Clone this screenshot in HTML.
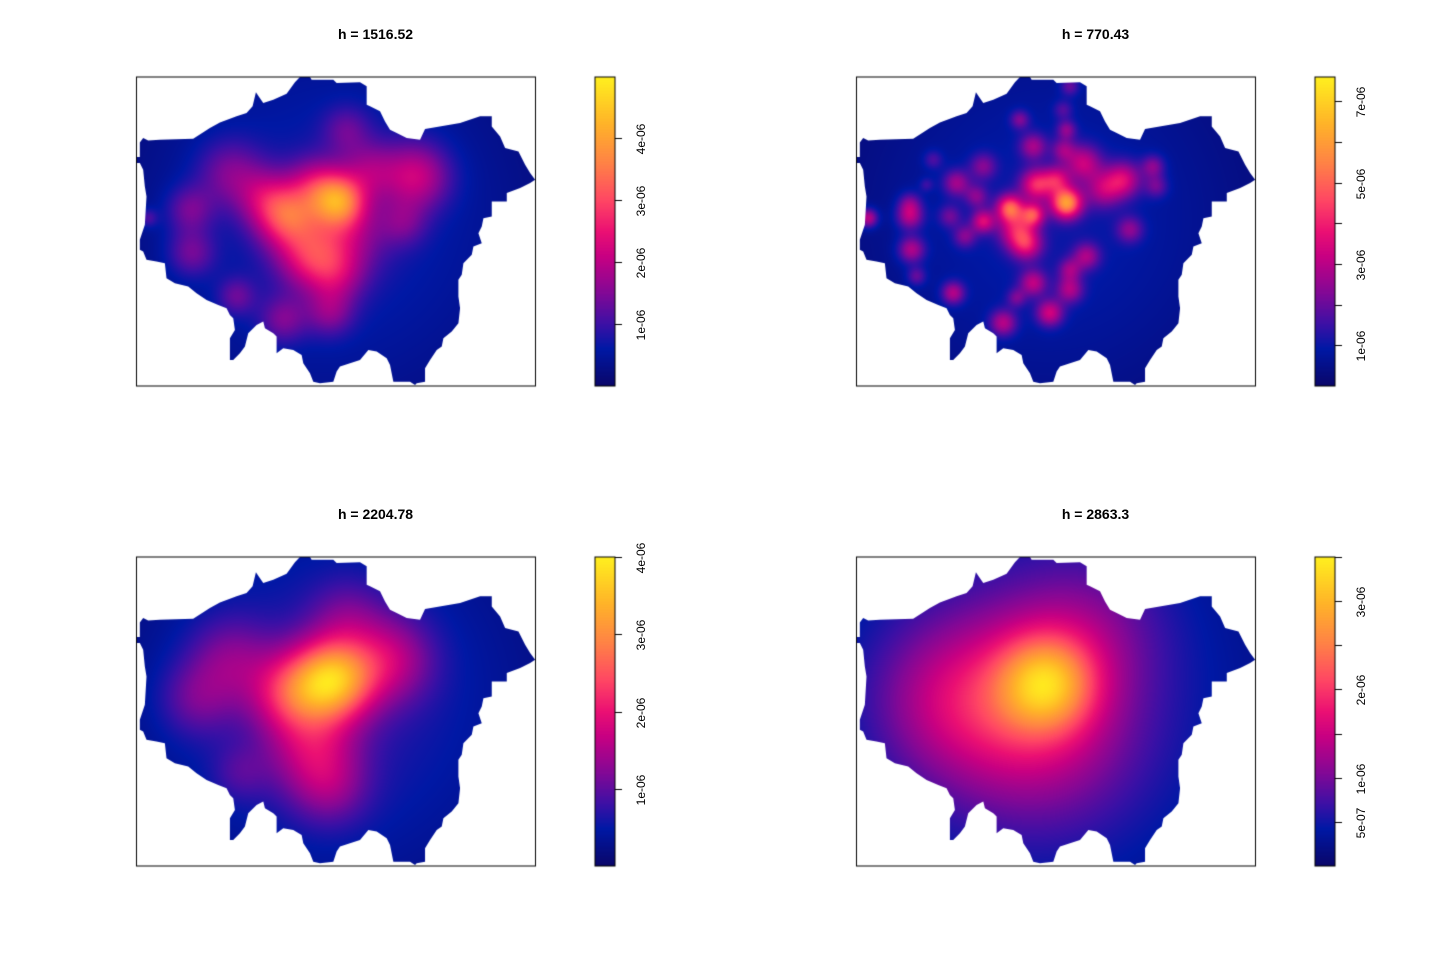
<!DOCTYPE html>
<html><head><meta charset="utf-8">
<style>
html,body{margin:0;padding:0;background:#fff;}
#wrap{position:relative;width:1440px;height:960px;overflow:hidden;font-family:"Liberation Sans",sans-serif;}
canvas{position:absolute;left:0;top:0;}
.title{position:absolute;width:400px;text-align:center;font-weight:bold;font-size:14px;color:#000;}
.tick{position:absolute;font-size:12px;color:#000;transform:translate(-50%,-50%) rotate(-90deg);white-space:nowrap;}
</style></head>
<body>
<div id="wrap">
<canvas id="cv" width="1440" height="960"></canvas>
</div>
<script>
// ---- data ----
const titles = ["h = 1516.52","h = 770.43","h = 2204.78","h = 2863.3"];
const legendMax = [4.98e-6, 7.6e-6, 4.0e-6, 3.5e-6];
const tickValues = [[1e-6,2e-6,3e-6,4e-6],[1e-6,2e-6,3e-6,4e-6,5e-6,6e-6,7e-6],[1e-6,2e-6,3e-6,4e-6],[5e-7,1e-6,1.5e-6,2e-6,2.5e-6,3e-6,3.5e-6]];
const tickLabels = [["1e-06","2e-06","3e-06","4e-06"],["1e-06","","3e-06","","5e-06","","7e-06"],["1e-06","2e-06","3e-06","4e-06"],["5e-07","1e-06","","2e-06","","3e-06",""]];
// kernel components per panel: [x, y, density, spread] in map coords
const kernels1 = [[600,450,0.75e-6,450],[630,395,2.4e-6,55],[470,440,2.1e-6,65],[560,350,1.3e-6,60],[860,320,1.5e-6,70],[540,560,1.6e-6,70],[650,500,1.0e-6,80],[180,420,0.9e-6,50],[185,550,0.9e-6,50],[300,310,0.9e-6,70],[320,680,0.8e-6,40],[460,750,0.9e-6,50],[600,730,0.9e-6,50],[650,180,0.7e-6,50],[820,460,0.7e-6,50],[620,620,0.9e-6,60],[400,380,0.9e-6,60],[720,300,0.9e-6,60],[55,445,0.7e-6,20]];
const kernels2 = [[600,450,1.0e-6,450],[650,400,5.0e-6,32],[480,415,3.8e-6,28],[550,435,3.2e-6,24],[400,455,2.6e-6,24],[560,345,3.1e-6,33],[620,330,2.3e-6,28],[500,480,2.5e-6,38],[530,525,2.5e-6,33],[700,280,2.3e-6,38],[820,330,2.5e-6,38],[760,360,1.9e-6,38],[550,230,1.9e-6,28],[650,180,1.6e-6,20],[640,240,1.5e-6,24],[910,290,1.6e-6,24],[920,350,1.3e-6,24],[840,480,1.6e-6,28],[710,560,1.9e-6,28],[660,600,1.6e-6,24],[660,660,2.0e-6,28],[550,640,2.2e-6,28],[600,730,2.5e-6,28],[460,760,2.2e-6,28],[500,685,1.3e-6,20],[310,670,2.2e-6,24],[200,620,1.3e-6,20],[185,540,2.2e-6,28],[180,440,2.2e-6,28],[180,400,1.3e-6,24],[320,340,1.9e-6,28],[380,380,1.5e-6,24],[400,290,1.5e-6,28],[345,500,1.5e-6,24],[300,440,1.3e-6,24],[510,150,1.5e-6,20],[660,50,1.3e-6,20],[640,120,1.0e-6,20],[55,445,2.5e-6,20],[250,270,1.0e-6,20],[230,345,0.8e-6,15]];
const kernels3 = [[600,450,0.7e-6,450],[610,390,2.6e-6,85],[480,430,1.3e-6,85],[780,330,1.0e-6,90],[300,330,0.7e-6,90],[200,450,0.6e-6,80],[550,600,1.0e-6,95],[330,670,0.4e-6,60],[650,200,0.5e-6,80],[600,720,0.6e-6,80]];
const kernels4 = [[550,450,0.7e-6,500],[590,400,1.6e-6,100],[400,450,0.8e-6,180],[600,560,0.6e-6,180],[700,250,0.5e-6,160],[250,450,0.3e-6,150]];
const kernelSets = [kernels1,kernels2,kernels3,kernels4];
// London boundary in map coords
const outline = [[20,262],[30,262],[30,218],[40,205],[55,212],[90,210],[190,207],[240,175],[270,158],[320,140],[350,130],[368,110],[378,68],[385,78],[400,100],[430,90],[470,72],[495,38],[510,22],[540,22],[545,30],[610,30],[620,40],[690,38],[710,50],[710,105],[720,110],[750,125],[765,155],[780,180],[800,190],[830,205],[870,210],[885,178],[990,160],[1050,140],[1085,140],[1085,170],[1110,200],[1125,235],[1165,245],[1185,285],[1200,310],[1215,330],[1200,340],[1170,355],[1130,370],[1130,395],[1085,395],[1085,440],[1060,445],[1055,470],[1045,490],[1055,520],[1030,530],[1025,555],[1000,580],[995,615],[985,630],[985,680],[990,715],[985,760],[965,785],[940,805],[935,830],[920,840],[900,870],[885,895],[885,935],[860,940],[855,945],[840,935],[790,935],[780,885],[770,865],[740,845],[715,840],[690,870],[660,880],[630,890],[620,905],[610,935],[570,940],[550,935],[540,910],[520,880],[515,855],[490,840],[460,835],[440,850],[440,800],[430,790],[405,775],[400,755],[380,765],[355,790],[345,830],[330,850],[310,870],[300,870],[300,805],[315,780],[310,745],[300,735],[290,715],[265,705],[230,690],[200,670],[175,650],[135,640],[110,625],[105,580],[80,575],[50,570],[40,545],[30,540],[30,510],[45,465],[50,380],[45,350],[40,300],[30,280],[20,280]];

// ---- layout ----
const boxes = [[136.5,77],[856.5,77],[136.5,557],[856.5,557]];
const BW=399, BH=309;
const stops=[[0,[10,6,105]],[0.12,[0,24,165]],[0.2,[60,16,165]],[0.3,[130,8,150]],[0.42,[200,0,130]],[0.5,[235,16,115]],[0.6,[255,70,100]],[0.72,[255,130,70]],[0.85,[255,180,40]],[1,[255,240,30]]];
function pal(f){f=Math.max(0,Math.min(1,f));for(let i=1;i<stops.length;i++){if(f<=stops[i][0]){const a=stops[i-1],b=stops[i],t=(f-a[0])/(b[0]-a[0]);return a[1].map((c,k)=>Math.round(c+(b[1][k]-c)*t));}}return stops[stops.length-1][1];}
const xs = u => (u-20)/3*(BW/398.7);
const ys = v => (v-22)/3*(BH/308.7);
const cv=document.getElementById('cv'),ctx=cv.getContext('2d');
const wrap=document.getElementById('wrap');
boxes.forEach((bx,p)=>{
  const [L,T]=bx;
  const off=document.createElement('canvas');off.width=BW;off.height=BH;
  const oc=off.getContext('2d');const img=oc.createImageData(BW,BH);
  const ks=kernelSets[p];
  for(let j=0;j<BH;j++)for(let i=0;i<BW;i++){
    const u=20+i*3+1.5, v=22+j*3+1.5; let d=0;
    for(const k of ks){const dx=u-k[0],dy=v-k[1];d+=k[2]*Math.exp(-(dx*dx+dy*dy)/(2*k[3]*k[3]));}
    const c=pal(d/legendMax[p]);const o=(j*BW+i)*4;img.data[o]=c[0];img.data[o+1]=c[1];img.data[o+2]=c[2];img.data[o+3]=255;}
  oc.putImageData(img,0,0);
  ctx.save();ctx.beginPath();
  outline.forEach((q,n)=>{const X=L+xs(q[0]),Y=T+ys(q[1]);n?ctx.lineTo(X,Y):ctx.moveTo(X,Y);});
  ctx.closePath();ctx.clip();ctx.drawImage(off,L,T);ctx.restore();
  ctx.strokeStyle='#000';ctx.lineWidth=1;ctx.strokeRect(L,T,BW,BH);
  const LX=L+458.5, LW=20, top=T, bot=T+BH;
  const ly=val=>bot-(val/legendMax[p])*(bot-top);
  for(let y=top;y<bot;y++){const c=pal((bot-y-0.5)/(bot-top));ctx.fillStyle=`rgb(${c[0]},${c[1]},${c[2]})`;ctx.fillRect(LX,y,LW,1);}
  ctx.strokeRect(LX,top,LW,BH);
  tickValues[p].forEach((tv,n)=>{const y=Math.round(ly(tv))+0.5;ctx.beginPath();ctx.moveTo(LX+LW,y);ctx.lineTo(LX+LW+7,y);ctx.stroke();
    if(tickLabels[p][n]){const s=document.createElement('div');s.className='tick';
      
      
      s.style.left=(LX+LW+26)+'px';s.style.top=y+'px';s.textContent=tickLabels[p][n];wrap.appendChild(s);}});
  const t=document.createElement('div');t.className='title';
  
  
  t.style.left=(L+39)+'px';t.style.top=(T-51)+'px';t.textContent=titles[p];wrap.appendChild(t);
});
</script>
</body></html>
